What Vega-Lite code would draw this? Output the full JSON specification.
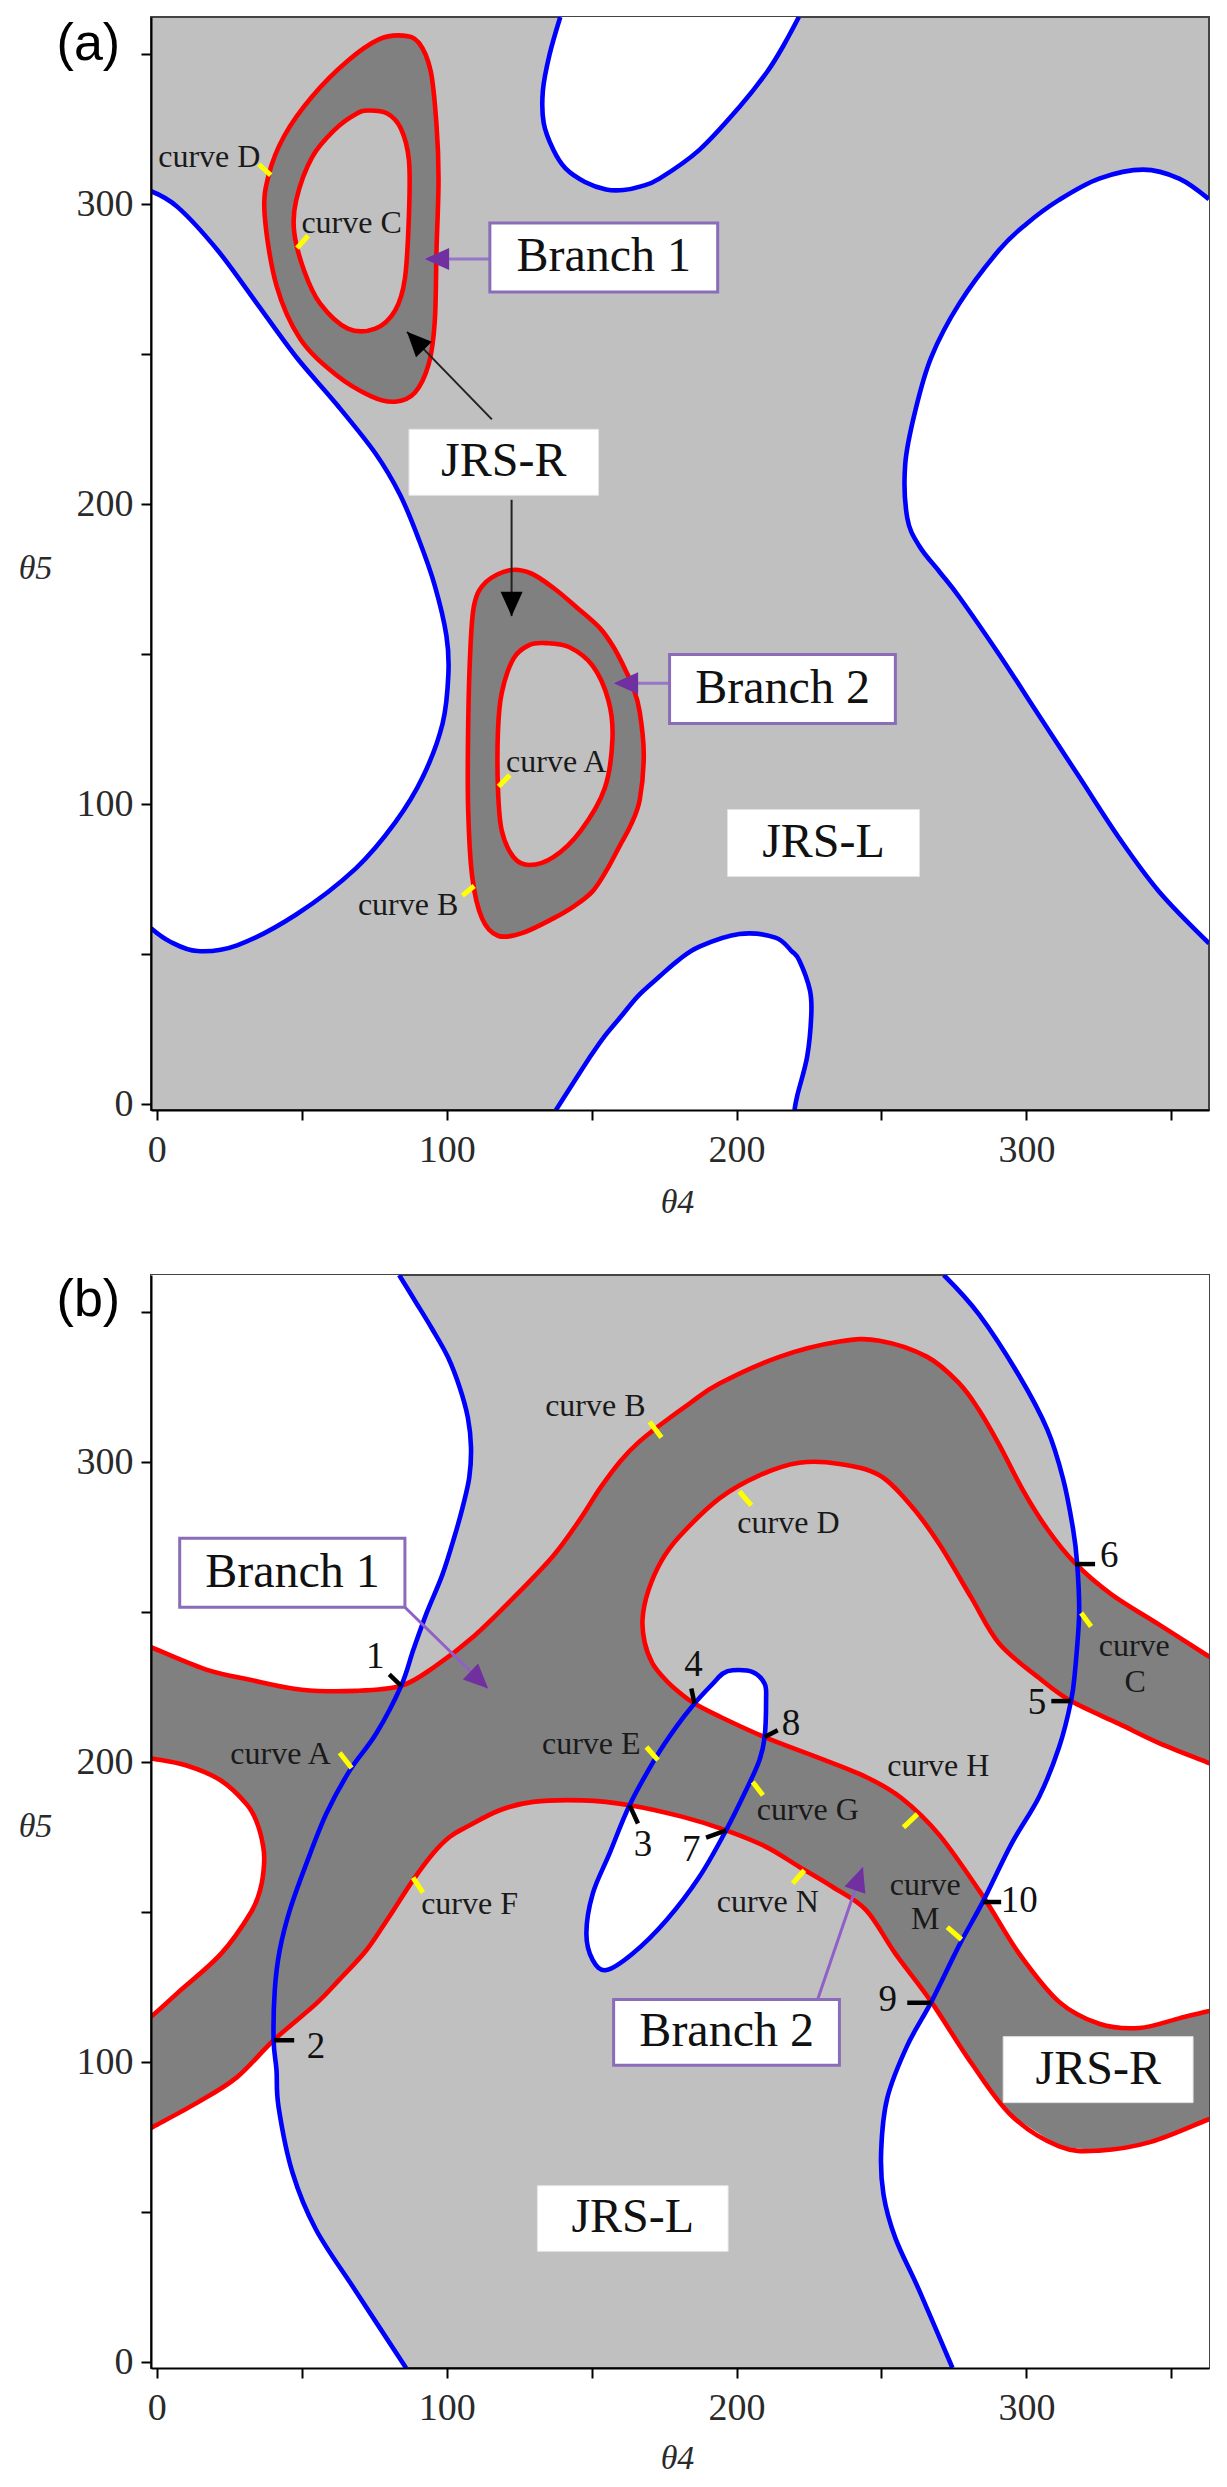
{
"$schema":"https://vega.github.io/schema/vega-lite/v6.json",
"background":"white",
"padding":{"left":17,"top":16,"right":10,"bottom":10},
"config":{"view":{"stroke":"#444444","strokeWidth":2,"fill":"#c0c0c0"},"font":"Liberation Serif"},
"datasets":{
"aW":[
{"k":"L","i":0,"x":-10,"y":306,"e":1},{"k":"L","i":1,"x":-2,"y":304.4},{"k":"L","i":2,"x":7.2,"y":299.1},{"k":"L","i":3,"x":20.9,"y":284.8},{"k":"L","i":4,"x":34.5,"y":267},{"k":"L","i":5,"x":48.1,"y":249.1},{"k":"L","i":6,"x":61.8,"y":233.6},{"k":"L","i":7,"x":75.4,"y":217},{"k":"L","i":8,"x":84,"y":203},{"k":"L","i":9,"x":90.5,"y":188},{"k":"L","i":10,"x":95.9,"y":172.9},{"k":"L","i":11,"x":99.9,"y":156.3},{"k":"L","i":12,"x":100.6,"y":143.5},{"k":"L","i":13,"x":98.6,"y":126.9},{"k":"L","i":14,"x":91.8,"y":109.1},{"k":"L","i":15,"x":82.2,"y":93.8},{"k":"L","i":16,"x":68.6,"y":78.5},{"k":"L","i":17,"x":48.1,"y":63.2},{"k":"L","i":18,"x":27.7,"y":52.9},{"k":"L","i":19,"x":14,"y":51},{"k":"L","i":20,"x":4.5,"y":54.2},{"k":"L","i":21,"x":-2,"y":58.6},{"k":"L","i":22,"x":-10,"y":62,"e":1},
{"k":"T","i":0,"x":141,"y":372,"e":1},{"k":"T","i":1,"x":139.2,"y":362.5},{"k":"T","i":2,"x":135.5,"y":350},{"k":"T","i":3,"x":133.2,"y":338},{"k":"T","i":4,"x":133.5,"y":327},{"k":"T","i":5,"x":136.8,"y":318.2},{"k":"T","i":6,"x":141,"y":312},{"k":"T","i":7,"x":147.7,"y":307.5},{"k":"T","i":8,"x":155,"y":305},{"k":"T","i":9,"x":161,"y":304.8},{"k":"T","i":10,"x":167,"y":306},{"k":"T","i":11,"x":173.4,"y":308.6},{"k":"T","i":12,"x":187.2,"y":318.2},{"k":"T","i":13,"x":201,"y":332.5},{"k":"T","i":14,"x":210.7,"y":344.4},{"k":"T","i":15,"x":216.5,"y":353.5},{"k":"T","i":16,"x":221.5,"y":362.5},{"k":"T","i":17,"x":224,"y":372,"e":1},
{"k":"R","i":0,"x":372,"y":300,"e":1},{"k":"R","i":1,"x":363,"y":301.7},{"k":"R","i":2,"x":352.7,"y":308.6},{"k":"R","i":3,"x":340.3,"y":311.6},{"k":"R","i":4,"x":325.1,"y":308.6},{"k":"R","i":5,"x":311.3,"y":301.5},{"k":"R","i":6,"x":300,"y":293.5},{"k":"R","i":7,"x":290.6,"y":284.8},{"k":"R","i":8,"x":276.9,"y":267},{"k":"R","i":9,"x":267.2,"y":249.1},{"k":"R","i":10,"x":261.7,"y":231.3},{"k":"R","i":11,"x":258.2,"y":213.4},{"k":"R","i":12,"x":258.9,"y":195.5},{"k":"R","i":13,"x":263.1,"y":186},{"k":"R","i":14,"x":270,"y":177.5},{"k":"R","i":15,"x":276.9,"y":169},{"k":"R","i":16,"x":290.6,"y":149.9},{"k":"R","i":17,"x":304.4,"y":129.5},{"k":"R","i":18,"x":318.2,"y":109.1},{"k":"R","i":19,"x":332,"y":88.7},{"k":"R","i":20,"x":345.8,"y":70.8},{"k":"R","i":21,"x":363,"y":53.6},{"k":"R","i":22,"x":372,"y":46,"e":1},
{"k":"B","i":0,"x":136,"y":-10,"e":1},{"k":"B","i":1,"x":137.7,"y":-2},{"k":"B","i":2,"x":143,"y":6},{"k":"B","i":3,"x":149,"y":15},{"k":"B","i":4,"x":154,"y":22},{"k":"B","i":5,"x":160,"y":29},{"k":"B","i":6,"x":166,"y":36},{"k":"B","i":7,"x":173.4,"y":42.5},{"k":"B","i":8,"x":180,"y":48},{"k":"B","i":9,"x":187.2,"y":52.5},{"k":"B","i":10,"x":201,"y":56.7},{"k":"B","i":11,"x":213.4,"y":55.5},{"k":"B","i":12,"x":219,"y":51},{"k":"B","i":13,"x":221.7,"y":47.8},{"k":"B","i":14,"x":225.3,"y":38},{"k":"B","i":15,"x":225.8,"y":30},{"k":"B","i":16,"x":224.4,"y":16},{"k":"B","i":17,"x":221,"y":3},{"k":"B","i":18,"x":220,"y":-2},{"k":"B","i":19,"x":219,"y":-10,"e":1}
],
"aR":[
{"k":"D1o","i":0,"x":84.9,"y":356.3},{"k":"D1o","i":1,"x":90.4,"y":353.9},{"k":"D1o","i":2,"x":94.5,"y":344.4},{"k":"D1o","i":3,"x":96.5,"y":326.5},{"k":"D1o","i":4,"x":97.2,"y":308.6},{"k":"D1o","i":5,"x":96.5,"y":284.8},{"k":"D1o","i":6,"x":95.9,"y":261},{"k":"D1o","i":7,"x":93.8,"y":246.7},{"k":"D1o","i":8,"x":89,"y":237.2},{"k":"D1o","i":9,"x":82.2,"y":234.2},{"k":"D1o","i":10,"x":74,"y":236},{"k":"D1o","i":11,"x":61.8,"y":243.2},{"k":"D1o","i":12,"x":49.5,"y":255.1},{"k":"D1o","i":13,"x":41.3,"y":272.9},{"k":"D1o","i":14,"x":37.2,"y":296.7},{"k":"D1o","i":15,"x":38.6,"y":309.8},{"k":"D1o","i":16,"x":44,"y":322.9},{"k":"D1o","i":17,"x":53.6,"y":336},{"k":"D1o","i":18,"x":65.9,"y":347.9},{"k":"D1o","i":19,"x":76.8,"y":355.1},
{"k":"D1i","i":0,"x":72.7,"y":331.3},{"k":"D1i","i":1,"x":79.5,"y":330.3},{"k":"D1i","i":2,"x":84.2,"y":325.3},{"k":"D1i","i":3,"x":87,"y":314.6},{"k":"D1i","i":4,"x":87,"y":296.7},{"k":"D1i","i":5,"x":85.6,"y":275.3},{"k":"D1i","i":6,"x":82.2,"y":264.6},{"k":"D1i","i":7,"x":75.4,"y":258.6},{"k":"D1i","i":8,"x":65.9,"y":258.6},{"k":"D1i","i":9,"x":56.3,"y":267},{"k":"D1i","i":10,"x":50.9,"y":277.7},{"k":"D1i","i":11,"x":47.4,"y":290.8},{"k":"D1i","i":12,"x":48.1,"y":301.5},{"k":"D1i","i":13,"x":53.6,"y":315.8},{"k":"D1i","i":14,"x":61.8,"y":325.3},{"k":"D1i","i":15,"x":68.6,"y":330.1},
{"k":"D2o","i":0,"x":121.7,"y":178},{"k":"D2o","i":1,"x":129,"y":177},{"k":"D2o","i":2,"x":137,"y":172},{"k":"D2o","i":3,"x":145,"y":165.5},{"k":"D2o","i":4,"x":152.8,"y":158.8},{"k":"D2o","i":5,"x":157.5,"y":152.5},{"k":"D2o","i":6,"x":161,"y":146.1},{"k":"D2o","i":7,"x":164.5,"y":138.5},{"k":"D2o","i":8,"x":166.6,"y":130.8},{"k":"D2o","i":9,"x":168,"y":116.7},{"k":"D2o","i":10,"x":166.6,"y":101.4},{"k":"D2o","i":11,"x":163.5,"y":93},{"k":"D2o","i":12,"x":159.7,"y":86.1},{"k":"D2o","i":13,"x":155.5,"y":78.5},{"k":"D2o","i":14,"x":150.4,"y":71},{"k":"D2o","i":15,"x":144,"y":66},{"k":"D2o","i":16,"x":136.8,"y":61.9},{"k":"D2o","i":17,"x":126,"y":57},{"k":"D2o","i":18,"x":117.7,"y":56.1},{"k":"D2o","i":19,"x":112.2,"y":61.9},{"k":"D2o","i":20,"x":108.8,"y":75.9},{"k":"D2o","i":21,"x":107.4,"y":98.9},{"k":"D2o","i":22,"x":107.4,"y":124.4},{"k":"D2o","i":23,"x":108.1,"y":149.9},{"k":"D2o","i":24,"x":109.5,"y":166.5},{"k":"D2o","i":25,"x":113.6,"y":174.1},
{"k":"D2i","i":0,"x":134,"y":153.7},{"k":"D2i","i":1,"x":142.2,"y":152.4},{"k":"D2i","i":2,"x":150.4,"y":146.1},{"k":"D2i","i":3,"x":155.8,"y":134.6},{"k":"D2i","i":4,"x":157.2,"y":121.8},{"k":"D2i","i":5,"x":154.5,"y":105.2},{"k":"D2i","i":6,"x":146.3,"y":91.2},{"k":"D2i","i":7,"x":136.8,"y":82.3},{"k":"D2i","i":8,"x":128.6,"y":79.7},{"k":"D2i","i":9,"x":123.1,"y":82.3},{"k":"D2i","i":10,"x":119,"y":91.2},{"k":"D2i","i":11,"x":117.7,"y":105.2},{"k":"D2i","i":12,"x":117.7,"y":124.4},{"k":"D2i","i":13,"x":119,"y":137.1},{"k":"D2i","i":14,"x":123.1,"y":148.6},{"k":"D2i","i":15,"x":128.6,"y":153.1}
],
"aMk":[
{"x":35.2,"y":313.4,"x2":39.3,"y2":309.8},{"x":52.2,"y":289.6,"x2":48.4,"y2":285.4},{"x":121.8,"y":109.7,"x2":117.9,"y2":105.9},{"x":109.5,"y":72.7,"x2":105.4,"y2":69.5}
],
"aBox":[
{"t":"br","x":114.9,"x2":193.5,"y":270.8,"y2":293.8},{"t":"br","x":176.9,"x2":254.8,"y":126.9,"y2":149.9},{"t":"jrs","x":87,"x2":152.4,"y":203,"y2":225},{"t":"jrs","x":196.9,"x2":263.1,"y":75.9,"y2":98.2}
],
"aArr":[
{"id":"a1","t":"p","x":114.9,"y":281.8,"x2":92.4,"y2":281.8},{"id":"a2","t":"p","x":176.9,"y":140.3,"x2":157.6,"y2":140.3},{"id":"a3","t":"k","x":115.6,"y":228.3,"x2":86.3,"y2":257.5},{"id":"a4","t":"k","x":122.4,"y":201.5,"x2":122.4,"y2":162.7}
],
"aTx":[
{"t":"box","s":"Branch 1","x":154.2,"y":282.3},{"t":"box","s":"Branch 2","x":215.9,"y":138.4},{"t":"box","s":"JRS-R","x":119.7,"y":214},{"t":"box","s":"JRS-L","x":230,"y":87},
{"t":"cv","s":"curve D","x":18.1,"y":315.8},{"t":"cv","s":"curve C","x":67.2,"y":293.8},{"t":"cv","s":"curve A","x":137.8,"y":113.9},{"t":"cv","s":"curve B","x":86.7,"y":66.3},
{"t":"pan","s":"(a)","x":-23.6,"y":353.5}
],
"bW":[
{"k":"L","i":0,"x":-10,"y":372,"e":1},{"k":"L","i":1,"x":83,"y":372,"e":1},{"k":"L","i":2,"x":83.6,"y":362.5},{"k":"L","i":3,"x":89,"y":354},{"k":"L","i":4,"x":95,"y":344.5},{"k":"L","i":5,"x":100.5,"y":335},{"k":"L","i":6,"x":104.5,"y":325},{"k":"L","i":7,"x":107.3,"y":315},{"k":"L","i":8,"x":108.4,"y":305},{"k":"L","i":9,"x":107.8,"y":295},{"k":"L","i":10,"x":105.5,"y":285},{"k":"L","i":11,"x":102.7,"y":275.3},{"k":"L","i":12,"x":98.5,"y":262.5},{"k":"L","i":13,"x":93.1,"y":249.8},{"k":"L","i":14,"x":88.5,"y":237.5},{"k":"L","i":15,"x":84.3,"y":225.5},{"k":"L","i":16,"x":75.7,"y":209.6},{"k":"L","i":17,"x":66.6,"y":197.3},{"k":"L","i":18,"x":58.5,"y":182.9},{"k":"L","i":19,"x":51.6,"y":166.2},{"k":"L","i":20,"x":45.9,"y":150.7},{"k":"L","i":21,"x":42.4,"y":137.3},{"k":"L","i":22,"x":40.7,"y":124},{"k":"L","i":23,"x":40.3,"y":107.3},{"k":"L","i":24,"x":41.3,"y":97.3},{"k":"L","i":25,"x":42,"y":85.1},{"k":"L","i":26,"x":46.8,"y":63.2},{"k":"L","i":27,"x":54.9,"y":44.2},{"k":"L","i":28,"x":68.6,"y":23.7},{"k":"L","i":29,"x":86,"y":-2},{"k":"L","i":30,"x":87,"y":-10,"e":1},{"k":"L","i":31,"x":-10,"y":-10,"e":1},
{"k":"R","i":0,"x":271,"y":372,"e":1},{"k":"R","i":1,"x":271.5,"y":362.5},{"k":"R","i":2,"x":283.7,"y":349.3},{"k":"R","i":3,"x":297.5,"y":328.9},{"k":"R","i":4,"x":307.2,"y":311},{"k":"R","i":5,"x":312.7,"y":294.4},{"k":"R","i":6,"x":316.1,"y":277.8},{"k":"R","i":7,"x":317.5,"y":266.4},{"k":"R","i":8,"x":318.2,"y":249.8},{"k":"R","i":9,"x":316.8,"y":230.6},{"k":"R","i":10,"x":315.4,"y":220.4},{"k":"R","i":11,"x":311.3,"y":205.1},{"k":"R","i":12,"x":304.4,"y":188.5},{"k":"R","i":13,"x":294.8,"y":172.7},{"k":"R","i":14,"x":285.1,"y":153.7},{"k":"R","i":15,"x":276.9,"y":139.1},{"k":"R","i":16,"x":267.2,"y":120.1},{"k":"R","i":17,"x":258.9,"y":105.5},{"k":"R","i":18,"x":252,"y":88},{"k":"R","i":19,"x":249.9,"y":70.5},{"k":"R","i":20,"x":250.7,"y":55.9},{"k":"R","i":21,"x":254.8,"y":41.3},{"k":"R","i":22,"x":263.1,"y":23.7},{"k":"R","i":23,"x":274.5,"y":-2},{"k":"R","i":24,"x":275,"y":-10,"e":1},{"k":"R","i":25,"x":372,"y":-10,"e":1},{"k":"R","i":26,"x":372,"y":372,"e":1}
],
"bE":[
{"i":0,"x":198.7,"y":230.7},{"i":1,"x":205.6,"y":230.1},{"i":2,"x":209.7,"y":226.2},{"i":3,"x":210.2,"y":220.7},{"i":4,"x":209.7,"y":208.4},{"i":5,"x":207.9,"y":200.7},{"i":6,"x":203.3,"y":190.7},{"i":7,"x":196.4,"y":177.3},{"i":8,"x":187.2,"y":161.8},{"i":9,"x":175.8,"y":147.3},{"i":10,"x":164.2,"y":136.2},{"i":11,"x":155.1,"y":130.7},{"i":12,"x":150.4,"y":134},{"i":13,"x":148.2,"y":142.9},{"i":14,"x":150.4,"y":156.2},{"i":15,"x":156.2,"y":169.6},{"i":16,"x":163.1,"y":185.7},{"i":17,"x":172.3,"y":201.8},{"i":18,"x":179.2,"y":211.8},{"i":19,"x":185.5,"y":219.6},{"i":20,"x":191.8,"y":226.2},{"i":21,"x":195.3,"y":229.6}
],
"bBand":[
{"i":0,"x":-10,"y":240.5},{"i":1,"x":-1.8,"y":238.3},{"i":2,"x":16.8,"y":231},{"i":3,"x":32.1,"y":227.5},{"i":4,"x":50,"y":224.2},{"i":5,"x":68.6,"y":223.8},{"i":6,"x":84.3,"y":225.5},{"i":7,"x":95.9,"y":231.9},{"i":8,"x":109.5,"y":242.1},{"i":9,"x":123.1,"y":254.9},{"i":10,"x":136.8,"y":268.9},{"i":11,"x":146,"y":281},{"i":12,"x":153,"y":291.5},{"i":13,"x":160,"y":300.5},{"i":14,"x":166,"y":306.5},{"i":15,"x":173.4,"y":312.3},{"i":16,"x":184,"y":319.8},{"i":17,"x":194.1,"y":326.3},{"i":18,"x":214.8,"y":335.2},{"i":19,"x":235.5,"y":340.3},{"i":20,"x":249.3,"y":340.6},{"i":21,"x":265.8,"y":335.2},{"i":22,"x":276.9,"y":326.3},{"i":23,"x":283.7,"y":317.4},{"i":24,"x":290.6,"y":305.9},{"i":25,"x":298.9,"y":290.6},{"i":26,"x":307.2,"y":277.8},{"i":27,"x":316.8,"y":266.4},{"i":28,"x":329.2,"y":256.1},{"i":29,"x":345.8,"y":245.9},{"i":30,"x":362.3,"y":235.7},{"i":31,"x":372,"y":230},
{"i":32,"x":372,"y":196},{"i":33,"x":362.3,"y":200},{"i":34,"x":345.8,"y":206.4},{"i":35,"x":332,"y":212.8},{"i":36,"x":315.4,"y":220.4},{"i":37,"x":304.4,"y":228.1},{"i":38,"x":290.6,"y":239.6},{"i":39,"x":281,"y":254.9},{"i":40,"x":270,"y":272.7},{"i":41,"x":260.3,"y":285.5},{"i":42,"x":249.3,"y":295.7},{"i":43,"x":235.5,"y":299.5},{"i":44,"x":221.7,"y":299.9},{"i":45,"x":207.9,"y":295.7},{"i":46,"x":194.1,"y":288},{"i":47,"x":180.3,"y":275.3},{"i":48,"x":174,"y":267},{"i":49,"x":169.5,"y":257},{"i":50,"x":167.6,"y":248},{"i":51,"x":168.3,"y":240},{"i":52,"x":171,"y":233},{"i":53,"x":175.5,"y":227.5},{"i":54,"x":180,"y":223.5},{"i":55,"x":185.5,"y":219.6},{"i":56,"x":194.1,"y":215.3},{"i":57,"x":209.7,"y":208.4},{"i":58,"x":227.5,"y":201.8},{"i":59,"x":244.7,"y":195.1},{"i":60,"x":257,"y":188},{"i":61,"x":270,"y":175.7},{"i":62,"x":285.1,"y":155.2},{"i":63,"x":297.5,"y":136.2},{"i":64,"x":311.3,"y":120.1},{"i":65,"x":325.1,"y":112.8},{"i":66,"x":338.9,"y":111.4},{"i":67,"x":352.7,"y":114.6},{"i":68,"x":362.3,"y":116.9},{"i":69,"x":372,"y":118},
{"i":70,"x":372,"y":80},{"i":71,"x":362.3,"y":80.7},{"i":72,"x":343,"y":73.4},{"i":73,"x":325.1,"y":70.5},{"i":74,"x":311.3,"y":71.9},{"i":75,"x":294.8,"y":82.2},{"i":76,"x":281,"y":99.7},{"i":77,"x":267.2,"y":120.1},{"i":78,"x":254.8,"y":136.2},{"i":79,"x":244.7,"y":150.7},{"i":80,"x":233.2,"y":158.4},{"i":81,"x":221.7,"y":165.1},{"i":82,"x":210.2,"y":171.8},{"i":83,"x":196.4,"y":177.3},{"i":84,"x":181.5,"y":181.8},{"i":85,"x":163.1,"y":185.7},{"i":86,"x":147,"y":187.3},{"i":87,"x":129.8,"y":186.8},{"i":88,"x":118.3,"y":184},{"i":89,"x":106.8,"y":178.4},{"i":90,"x":101,"y":175.1},{"i":91,"x":95.3,"y":169.6},{"i":92,"x":88.4,"y":160.7},{"i":93,"x":79.5,"y":147.5},{"i":94,"x":72.3,"y":137.3},{"i":95,"x":63,"y":127.5},{"i":96,"x":55.1,"y":119.6},{"i":97,"x":40.3,"y":107.3},{"i":98,"x":27.7,"y":95},{"i":99,"x":14,"y":86.5},{"i":100,"x":-1.2,"y":78.5},{"i":101,"x":-10,"y":74},
{"i":102,"x":-10,"y":113},{"i":103,"x":-1.2,"y":115.8},{"i":104,"x":7.2,"y":123.1},{"i":105,"x":22.2,"y":136.2},{"i":106,"x":32.5,"y":150},{"i":107,"x":35.8,"y":158},{"i":108,"x":37,"y":166},{"i":109,"x":36.7,"y":172},{"i":110,"x":34.5,"y":180},{"i":111,"x":31,"y":186},{"i":112,"x":22,"y":194},{"i":113,"x":10,"y":199},{"i":114,"x":-1.8,"y":201.3},{"i":115,"x":-10,"y":203}
],
"bRed":[
{"k":"R1","i":0,"x":-4,"y":239.2},{"k":"R1","i":1,"x":-1.8,"y":238.3},{"k":"R1","i":2,"x":16.8,"y":231},{"k":"R1","i":3,"x":32.1,"y":227.5},{"k":"R1","i":4,"x":50,"y":224.2},{"k":"R1","i":5,"x":68.6,"y":223.8},{"k":"R1","i":6,"x":84.3,"y":225.5},{"k":"R1","i":7,"x":95.9,"y":231.9},{"k":"R1","i":8,"x":109.5,"y":242.1},{"k":"R1","i":9,"x":123.1,"y":254.9},{"k":"R1","i":10,"x":136.8,"y":268.9},{"k":"R1","i":11,"x":146,"y":281},{"k":"R1","i":12,"x":153,"y":291.5},{"k":"R1","i":13,"x":160,"y":300.5},{"k":"R1","i":14,"x":166,"y":306.5},{"k":"R1","i":15,"x":173.4,"y":312.3},{"k":"R1","i":16,"x":184,"y":319.8},{"k":"R1","i":17,"x":194.1,"y":326.3},{"k":"R1","i":18,"x":214.8,"y":335.2},{"k":"R1","i":19,"x":235.5,"y":340.3},{"k":"R1","i":20,"x":249.3,"y":340.6},{"k":"R1","i":21,"x":265.8,"y":335.2},{"k":"R1","i":22,"x":276.9,"y":326.3},{"k":"R1","i":23,"x":283.7,"y":317.4},{"k":"R1","i":24,"x":290.6,"y":305.9},{"k":"R1","i":25,"x":298.9,"y":290.6},{"k":"R1","i":26,"x":307.2,"y":277.8},{"k":"R1","i":27,"x":316.8,"y":266.4},{"k":"R1","i":28,"x":329.2,"y":256.1},{"k":"R1","i":29,"x":345.8,"y":245.9},{"k":"R1","i":30,"x":362.3,"y":235.7},{"k":"R1","i":31,"x":366,"y":233.5},
{"k":"R2","i":0,"x":366,"y":198.5},{"k":"R2","i":1,"x":362.3,"y":200},{"k":"R2","i":2,"x":345.8,"y":206.4},{"k":"R2","i":3,"x":332,"y":212.8},{"k":"R2","i":4,"x":315.4,"y":220.4},{"k":"R2","i":5,"x":304.4,"y":228.1},{"k":"R2","i":6,"x":290.6,"y":239.6},{"k":"R2","i":7,"x":281,"y":254.9},{"k":"R2","i":8,"x":270,"y":272.7},{"k":"R2","i":9,"x":260.3,"y":285.5},{"k":"R2","i":10,"x":249.3,"y":295.7},{"k":"R2","i":11,"x":235.5,"y":299.5},{"k":"R2","i":12,"x":221.7,"y":299.9},{"k":"R2","i":13,"x":207.9,"y":295.7},{"k":"R2","i":14,"x":194.1,"y":288},{"k":"R2","i":15,"x":180.3,"y":275.3},{"k":"R2","i":16,"x":174,"y":267},{"k":"R2","i":17,"x":169.5,"y":257},{"k":"R2","i":18,"x":167.6,"y":248},{"k":"R2","i":19,"x":168.3,"y":240},{"k":"R2","i":20,"x":171,"y":233},{"k":"R2","i":21,"x":175.5,"y":227.5},{"k":"R2","i":22,"x":180,"y":223.5},{"k":"R2","i":23,"x":185.5,"y":219.6},{"k":"R2","i":24,"x":194.1,"y":215.3},{"k":"R2","i":25,"x":209.7,"y":208.4},{"k":"R2","i":26,"x":227.5,"y":201.8},{"k":"R2","i":27,"x":244.7,"y":195.1},{"k":"R2","i":28,"x":257,"y":188},{"k":"R2","i":29,"x":270,"y":175.7},{"k":"R2","i":30,"x":285.1,"y":155.2},{"k":"R2","i":31,"x":297.5,"y":136.2},{"k":"R2","i":32,"x":311.3,"y":120.1},{"k":"R2","i":33,"x":325.1,"y":112.8},{"k":"R2","i":34,"x":338.9,"y":111.4},{"k":"R2","i":35,"x":352.7,"y":114.6},{"k":"R2","i":36,"x":362.3,"y":116.9},{"k":"R2","i":37,"x":366,"y":117.5},
{"k":"R3","i":0,"x":366,"y":82},{"k":"R3","i":1,"x":362.3,"y":80.7},{"k":"R3","i":2,"x":343,"y":73.4},{"k":"R3","i":3,"x":325.1,"y":70.5},{"k":"R3","i":4,"x":311.3,"y":71.9},{"k":"R3","i":5,"x":294.8,"y":82.2},{"k":"R3","i":6,"x":281,"y":99.7},{"k":"R3","i":7,"x":267.2,"y":120.1},{"k":"R3","i":8,"x":254.8,"y":136.2},{"k":"R3","i":9,"x":244.7,"y":150.7},{"k":"R3","i":10,"x":233.2,"y":158.4},{"k":"R3","i":11,"x":221.7,"y":165.1},{"k":"R3","i":12,"x":210.2,"y":171.8},{"k":"R3","i":13,"x":196.4,"y":177.3},{"k":"R3","i":14,"x":181.5,"y":181.8},{"k":"R3","i":15,"x":163.1,"y":185.7},{"k":"R3","i":16,"x":147,"y":187.3},{"k":"R3","i":17,"x":129.8,"y":186.8},{"k":"R3","i":18,"x":118.3,"y":184},{"k":"R3","i":19,"x":106.8,"y":178.4},{"k":"R3","i":20,"x":101,"y":175.1},{"k":"R3","i":21,"x":95.3,"y":169.6},{"k":"R3","i":22,"x":88.4,"y":160.7},{"k":"R3","i":23,"x":79.5,"y":147.5},{"k":"R3","i":24,"x":72.3,"y":137.3},{"k":"R3","i":25,"x":63,"y":127.5},{"k":"R3","i":26,"x":55.1,"y":119.6},{"k":"R3","i":27,"x":40.3,"y":107.3},{"k":"R3","i":28,"x":27.7,"y":95},{"k":"R3","i":29,"x":14,"y":86.5},{"k":"R3","i":30,"x":-1.2,"y":78.5},{"k":"R3","i":31,"x":-4,"y":77},
{"k":"R4","i":0,"x":-4,"y":114.5},{"k":"R4","i":1,"x":-1.2,"y":115.8},{"k":"R4","i":2,"x":7.2,"y":123.1},{"k":"R4","i":3,"x":22.2,"y":136.2},{"k":"R4","i":4,"x":32.5,"y":150},{"k":"R4","i":5,"x":35.8,"y":158},{"k":"R4","i":6,"x":37,"y":166},{"k":"R4","i":7,"x":36.7,"y":172},{"k":"R4","i":8,"x":34.5,"y":180},{"k":"R4","i":9,"x":31,"y":186},{"k":"R4","i":10,"x":22,"y":194},{"k":"R4","i":11,"x":10,"y":199},{"k":"R4","i":12,"x":-1.8,"y":201.3},{"k":"R4","i":13,"x":-4,"y":201.8}
],
"bMk":[
{"t":"y","x":63.1,"y":203.2,"x2":67.2,"y2":198.1},{"t":"y","x":170,"y":313.6,"x2":174.1,"y2":308.3},{"t":"y","x":201,"y":290.3,"x2":205.1,"y2":285.7},{"t":"y","x":318.9,"y":249.8,"x2":322.3,"y2":245.3},{"t":"y","x":168.9,"y":205.1,"x2":172.9,"y2":200.7},{"t":"y","x":205.6,"y":193.4,"x2":209.1,"y2":189},{"t":"y","x":262.4,"y":182.7,"x2":257.6,"y2":178.3},{"t":"y","x":88.4,"y":161.5,"x2":91.8,"y2":156.5},{"t":"y","x":223.4,"y":164,"x2":219.4,"y2":159.6},{"t":"y","x":272.7,"y":145,"x2":277.6,"y2":140.9},
{"t":"k","x":80.2,"y":229.3,"x2":84.3,"y2":225.5},{"t":"k","x":40.4,"y":107.3,"x2":47.4,"y2":107.3},{"t":"k","x":163.1,"y":185.7,"x2":166,"y2":179.6},{"t":"k","x":185.5,"y":219.6,"x2":184.4,"y2":224.6},{"t":"k","x":308.6,"y":220.4,"x2":315.4,"y2":220.4},{"t":"k","x":316.8,"y":266.1,"x2":323.7,"y2":266.1},{"t":"k","x":196.4,"y":177.3,"x2":189.5,"y2":174.9},{"t":"k","x":209.7,"y":208.4,"x2":214.2,"y2":210.7},{"t":"k","x":258.9,"y":119.8,"x2":267.2,"y2":119.8},{"t":"k","x":285.1,"y":153.4,"x2":291.3,"y2":153.4}
],
"bBox":[
{"t":"br","x":7.9,"x2":85.6,"y":251.7,"y2":274.7},{"t":"br","x":157.6,"x2":235.5,"y":99,"y2":120.9},{"t":"jrs","x":131.3,"x2":197.1,"y":36.9,"y2":58.8},{"t":"jrs","x":292,"x2":357.5,"y":86.5,"y2":108.5}
],
"bArr":[
{"id":"b1","t":"p","x":85.6,"y":251.7,"x2":114.3,"y2":224.6},{"id":"b2","t":"p","x":228.1,"y":121.2,"x2":243.6,"y2":165.1}
],
"bTx":[
{"t":"box","s":"Branch 1","x":46.8,"y":263.2},{"t":"box","s":"Branch 2","x":196.6,"y":110},{"t":"box","s":"JRS-L","x":164.2,"y":47.9},{"t":"box","s":"JRS-R","x":324.8,"y":97.5},
{"t":"cv","s":"curve A","x":42.7,"y":202.6},{"t":"cv","s":"curve B","x":151.3,"y":318.7},{"t":"cv","s":"curve D","x":217.9,"y":279.7},{"t":"cv","s":"curve E","x":149.9,"y":206.2},{"t":"cv","s":"curve F","x":107.9,"y":152.9},{"t":"cv","s":"curve G","x":224.6,"y":184},{"t":"cv","s":"curve H","x":269.6,"y":198.7},{"t":"cv","s":"curve N","x":210.8,"y":153.4},{"t":"cv","s":"curve","x":337.2,"y":238.9},{"t":"cv","s":"C","x":337.5,"y":226.8},{"t":"cv","s":"curve","x":265.1,"y":159.2},{"t":"cv","s":"M","x":265.1,"y":147.9},
{"t":"num","s":"1","x":75.4,"y":235.1},{"t":"num","s":"2","x":54.9,"y":105.2},{"t":"num","s":"3","x":167.7,"y":172.3},{"t":"num","s":"4","x":185.2,"y":232.6},{"t":"num","s":"5","x":303.7,"y":219.8},{"t":"num","s":"6","x":328.6,"y":268.9},{"t":"num","s":"7","x":184.4,"y":170.7},{"t":"num","s":"8","x":218.8,"y":212.9},{"t":"num","s":"9","x":252.2,"y":120.7},{"t":"num","s":"10","x":297.5,"y":153.7},
{"t":"pan","s":"(b)","x":-23.6,"y":354.3}
]
},
"vconcat":[
{
"width":1058,"height":1093,
"encoding":{
"x":{"field":"x","type":"quantitative","scale":{"domain":[-2,363],"nice":false,"zero":false},"axis":{"title":"θ4","values":[0,50,100,150,200,250,300,350],"labelExpr":"datum.value % 100 === 0 ? datum.label : ''","grid":false,"tickSize":10,"tickWidth":2,"tickColor":"#000000","domainColor":"#000000","domainWidth":2,"labelFont":"Liberation Serif","labelFontSize":38,"labelColor":"#2a2a2a","labelPadding":11,"labelFlush":false,"labelOverlap":false,"titleFont":"Liberation Serif","titleFontStyle":"italic","titleFontWeight":"normal","titleFontSize":34,"titleColor":"#2a2a2a","titleX":526,"titleY":92,"titleAlign":"center","titleBaseline":"middle","zindex":1}},
"y":{"field":"y","type":"quantitative","scale":{"domain":[-2,362.5],"nice":false,"zero":false},"axis":{"title":"θ5","values":[0,50,100,150,200,250,300,350],"labelExpr":"datum.value % 100 === 0 ? datum.label : ''","grid":false,"tickSize":10,"tickWidth":2,"tickColor":"#000000","domainColor":"#000000","domainWidth":2,"labelFont":"Liberation Serif","labelFontSize":38,"labelColor":"#2a2a2a","labelPadding":8,"labelOverlap":false,"titleFont":"Liberation Serif","titleFontStyle":"italic","titleFontWeight":"normal","titleFontSize":34,"titleColor":"#2a2a2a","titleAngle":0,"titleX":-116,"titleY":551,"titleAlign":"center","titleBaseline":"middle","zindex":1}}
},
"layer":[
{"data":{"name":"aW"},"mark":{"type":"line","fill":"#ffffff","strokeWidth":0,"clip":true},"encoding":{"detail":{"field":"k"},"order":{"field":"i","type":"quantitative"}}},
{"data":{"name":"aR"},"transform":[{"filter":"datum.k==='D1o'||datum.k==='D2o'"}],"mark":{"type":"line","fill":"#808080","strokeWidth":0,"interpolate":"cardinal-closed","clip":true},"encoding":{"detail":{"field":"k"},"order":{"field":"i","type":"quantitative"}}},
{"data":{"name":"aR"},"transform":[{"filter":"datum.k==='D1i'||datum.k==='D2i'"}],"mark":{"type":"line","fill":"#c0c0c0","strokeWidth":0,"interpolate":"cardinal-closed","clip":true},"encoding":{"detail":{"field":"k"},"order":{"field":"i","type":"quantitative"}}},
{"data":{"name":"aR"},"mark":{"type":"line","color":"#ff0000","strokeWidth":4.6,"interpolate":"cardinal-closed","clip":true},"encoding":{"detail":{"field":"k"},"order":{"field":"i","type":"quantitative"}}},
{"data":{"name":"aW"},"transform":[{"filter":"datum.e !== 1"}],"mark":{"type":"line","color":"#0000ff","strokeWidth":4.6,"interpolate":"cardinal","clip":true},"encoding":{"detail":{"field":"k"},"order":{"field":"i","type":"quantitative"}}},
{"data":{"name":"aMk"},"mark":{"type":"rule","color":"#ffff00","strokeWidth":5},"encoding":{"x2":{"field":"x2"},"y2":{"field":"y2"}}},
{"data":{"name":"aArr"},"transform":[{"filter":"datum.t==='p'"}],"mark":{"type":"rule","color":"#9676c8","strokeWidth":3},"encoding":{"x2":{"field":"x2"},"y2":{"field":"y2"}}},
{"data":{"name":"aArr"},"transform":[{"filter":"datum.t==='k'"}],"mark":{"type":"rule","color":"#222222","strokeWidth":2},"encoding":{"x2":{"field":"x2"},"y2":{"field":"y2"}}},
{"data":{"name":"aArr"},"transform":[{"filter":"datum.t==='p'"}],"mark":{"type":"point","shape":"M0,0L-0.9,2L0.9,2Z","filled":true,"opacity":1,"size":600,"angle":270,"color":"#7030a0"},"encoding":{"x":{"field":"x2","type":"quantitative"},"y":{"field":"y2","type":"quantitative"}}},
{"data":{"name":"aArr"},"transform":[{"filter":"datum.id==='a3'"}],"mark":{"type":"point","shape":"M0,0L-0.9,2L0.9,2Z","filled":true,"opacity":1,"size":600,"angle":316,"color":"#000000"},"encoding":{"x":{"field":"x2","type":"quantitative"},"y":{"field":"y2","type":"quantitative"}}},
{"data":{"name":"aArr"},"transform":[{"filter":"datum.id==='a4'"}],"mark":{"type":"point","shape":"M0,0L-0.9,2L0.9,2Z","filled":true,"opacity":1,"size":600,"angle":180,"color":"#000000"},"encoding":{"x":{"field":"x2","type":"quantitative"},"y":{"field":"y2","type":"quantitative"}}},
{"data":{"name":"aBox"},"transform":[{"filter":"datum.t==='br'"}],"mark":{"type":"rect","fill":"#ffffff","stroke":"#8a6cb8","strokeWidth":3},"encoding":{"x2":{"field":"x2"},"y2":{"field":"y2"}}},
{"data":{"name":"aBox"},"transform":[{"filter":"datum.t==='jrs'"}],"mark":{"type":"rect","fill":"#ffffff","stroke":"#e4e4e4","strokeWidth":1},"encoding":{"x2":{"field":"x2"},"y2":{"field":"y2"}}},
{"data":{"name":"aTx"},"transform":[{"filter":"datum.t==='box'"}],"mark":{"type":"text","font":"Liberation Serif","fontSize":48,"color":"#111111"},"encoding":{"text":{"field":"s"}}},
{"data":{"name":"aTx"},"transform":[{"filter":"datum.t==='cv'"}],"mark":{"type":"text","font":"Liberation Serif","fontSize":32,"color":"#1a1a1a"},"encoding":{"text":{"field":"s"}}},
{"data":{"name":"aTx"},"transform":[{"filter":"datum.t==='pan'"}],"mark":{"type":"text","font":"Liberation Sans","fontSize":52,"color":"#000000"},"encoding":{"text":{"field":"s"}}}
]
},
{
"width":1058,"height":1093,
"encoding":{
"x":{"field":"x","type":"quantitative","scale":{"domain":[-2,363],"nice":false,"zero":false},"axis":{"title":"θ4","values":[0,50,100,150,200,250,300,350],"labelExpr":"datum.value % 100 === 0 ? datum.label : ''","grid":false,"tickSize":10,"tickWidth":2,"tickColor":"#000000","domainColor":"#000000","domainWidth":2,"labelFont":"Liberation Serif","labelFontSize":38,"labelColor":"#2a2a2a","labelPadding":11,"labelFlush":false,"labelOverlap":false,"titleFont":"Liberation Serif","titleFontStyle":"italic","titleFontWeight":"normal","titleFontSize":34,"titleColor":"#2a2a2a","titleX":526,"titleY":90,"titleAlign":"center","titleBaseline":"middle","zindex":1}},
"y":{"field":"y","type":"quantitative","scale":{"domain":[-2,362.5],"nice":false,"zero":false},"axis":{"title":"θ5","values":[0,50,100,150,200,250,300,350],"labelExpr":"datum.value % 100 === 0 ? datum.label : ''","grid":false,"tickSize":10,"tickWidth":2,"tickColor":"#000000","domainColor":"#000000","domainWidth":2,"labelFont":"Liberation Serif","labelFontSize":38,"labelColor":"#2a2a2a","labelPadding":8,"labelOverlap":false,"titleFont":"Liberation Serif","titleFontStyle":"italic","titleFontWeight":"normal","titleFontSize":34,"titleColor":"#2a2a2a","titleAngle":0,"titleX":-116,"titleY":551,"titleAlign":"center","titleBaseline":"middle","zindex":1}}
},
"layer":[
{"data":{"name":"bW"},"mark":{"type":"line","fill":"#ffffff","strokeWidth":0,"clip":true},"encoding":{"detail":{"field":"k"},"order":{"field":"i","type":"quantitative"}}},
{"data":{"name":"bE"},"mark":{"type":"line","fill":"#ffffff","strokeWidth":0,"interpolate":"cardinal-closed","clip":true},"encoding":{"order":{"field":"i","type":"quantitative"}}},
{"data":{"name":"bBand"},"mark":{"type":"line","fill":"#808080","strokeWidth":0,"clip":true},"encoding":{"order":{"field":"i","type":"quantitative"}}},
{"data":{"name":"bRed"},"mark":{"type":"line","color":"#ff0000","strokeWidth":4.6,"interpolate":"cardinal","clip":true},"encoding":{"detail":{"field":"k"},"order":{"field":"i","type":"quantitative"}}},
{"data":{"name":"bW"},"transform":[{"filter":"datum.e !== 1"}],"mark":{"type":"line","color":"#0000ff","strokeWidth":4.6,"interpolate":"cardinal","clip":true},"encoding":{"detail":{"field":"k"},"order":{"field":"i","type":"quantitative"}}},
{"data":{"name":"bE"},"mark":{"type":"line","color":"#0000ff","strokeWidth":4.6,"interpolate":"cardinal-closed","clip":true},"encoding":{"order":{"field":"i","type":"quantitative"}}},
{"data":{"name":"bMk"},"transform":[{"filter":"datum.t==='y'"}],"mark":{"type":"rule","color":"#ffff00","strokeWidth":5},"encoding":{"x2":{"field":"x2"},"y2":{"field":"y2"}}},
{"data":{"name":"bMk"},"transform":[{"filter":"datum.t==='k'"}],"mark":{"type":"rule","color":"#000000","strokeWidth":4.5},"encoding":{"x2":{"field":"x2"},"y2":{"field":"y2"}}},
{"data":{"name":"bArr"},"mark":{"type":"rule","color":"#9060c8","strokeWidth":3},"encoding":{"x2":{"field":"x2"},"y2":{"field":"y2"}}},
{"data":{"name":"bArr"},"transform":[{"filter":"datum.id==='b1'"}],"mark":{"type":"point","shape":"M0,0L-0.9,2L0.9,2Z","filled":true,"opacity":1,"size":600,"angle":134,"color":"#7030a0"},"encoding":{"x":{"field":"x2","type":"quantitative"},"y":{"field":"y2","type":"quantitative"}}},
{"data":{"name":"bArr"},"transform":[{"filter":"datum.id==='b2'"}],"mark":{"type":"point","shape":"M0,0L-0.9,2L0.9,2Z","filled":true,"opacity":1,"size":600,"angle":19,"color":"#7030a0"},"encoding":{"x":{"field":"x2","type":"quantitative"},"y":{"field":"y2","type":"quantitative"}}},
{"data":{"name":"bBox"},"transform":[{"filter":"datum.t==='br'"}],"mark":{"type":"rect","fill":"#ffffff","stroke":"#8a6cb8","strokeWidth":3},"encoding":{"x2":{"field":"x2"},"y2":{"field":"y2"}}},
{"data":{"name":"bBox"},"transform":[{"filter":"datum.t==='jrs'"}],"mark":{"type":"rect","fill":"#ffffff","stroke":"#e4e4e4","strokeWidth":1},"encoding":{"x2":{"field":"x2"},"y2":{"field":"y2"}}},
{"data":{"name":"bTx"},"transform":[{"filter":"datum.t==='box'"}],"mark":{"type":"text","font":"Liberation Serif","fontSize":48,"color":"#111111"},"encoding":{"text":{"field":"s"}}},
{"data":{"name":"bTx"},"transform":[{"filter":"datum.t==='cv'"}],"mark":{"type":"text","font":"Liberation Serif","fontSize":32,"color":"#1a1a1a"},"encoding":{"text":{"field":"s"}}},
{"data":{"name":"bTx"},"transform":[{"filter":"datum.t==='num'"}],"mark":{"type":"text","font":"Liberation Serif","fontSize":37,"color":"#111111"},"encoding":{"text":{"field":"s"}}},
{"data":{"name":"bTx"},"transform":[{"filter":"datum.t==='pan'"}],"mark":{"type":"text","font":"Liberation Sans","fontSize":52,"color":"#000000"},"encoding":{"text":{"field":"s"}}}
]
}
],
"spacing":165,
"bounds":"flush"
}
